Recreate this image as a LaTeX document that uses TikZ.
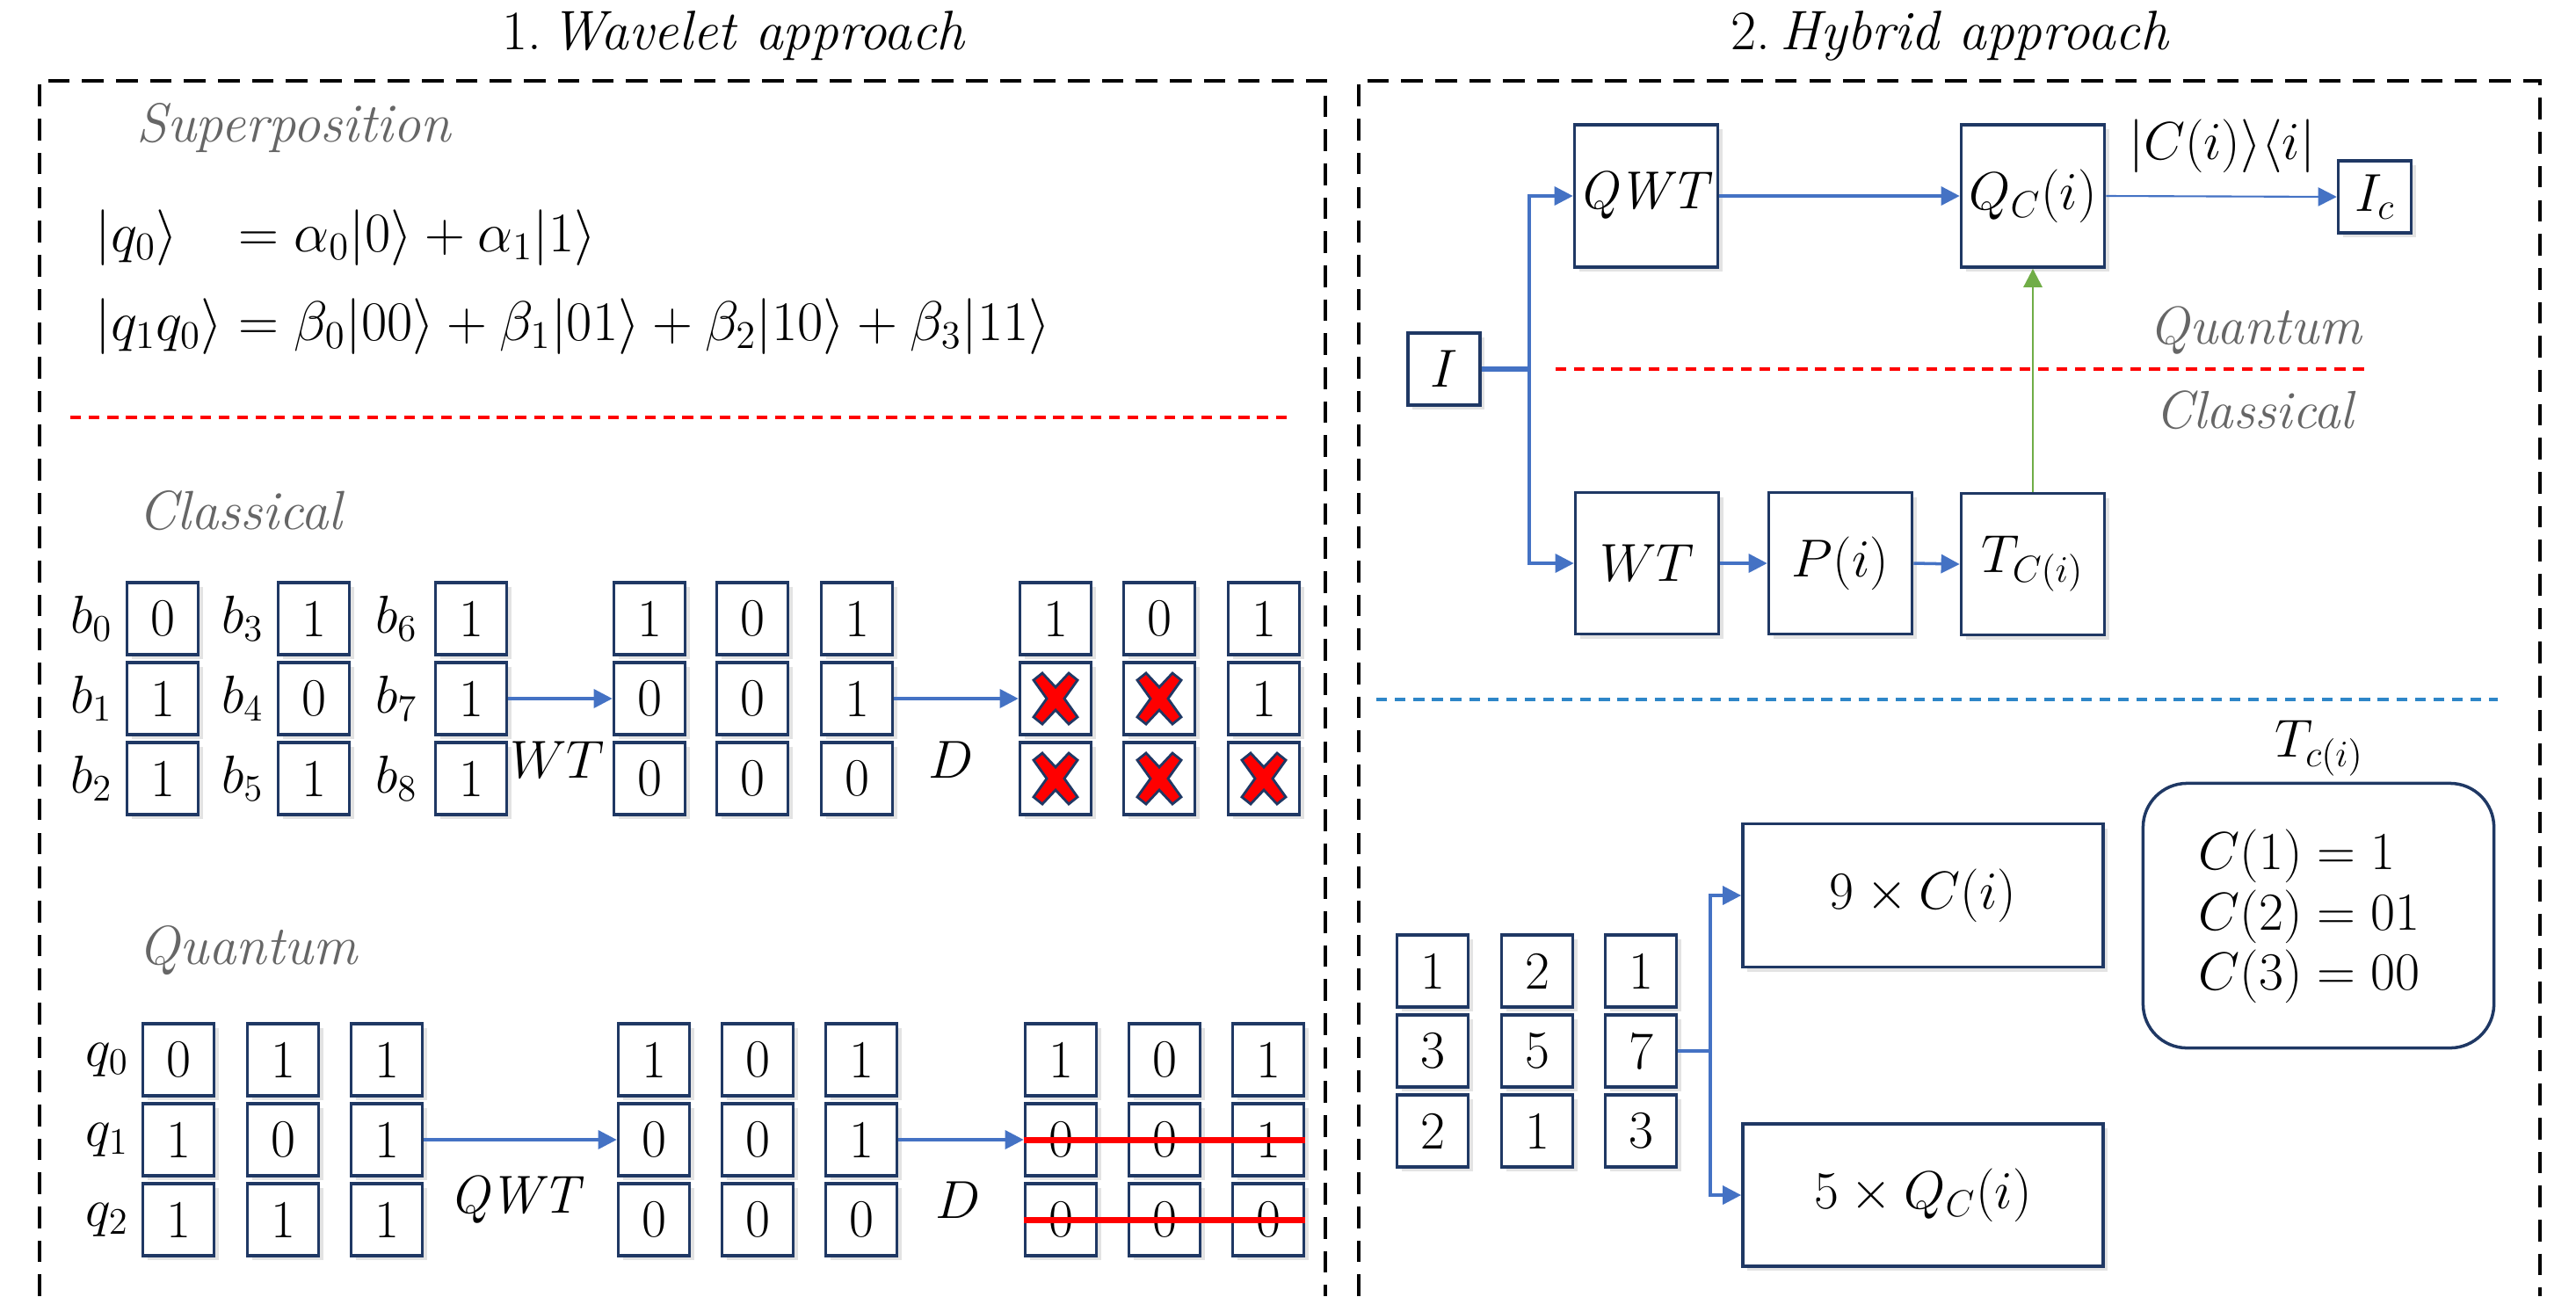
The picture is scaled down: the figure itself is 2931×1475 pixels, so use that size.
\RequirePackage{fix-cm}
\documentclass[tikz,border=0pt]{standalone}
\usetikzlibrary{arrows.meta,shadows}
\definecolor{navy}{HTML}{1F3864}
\definecolor{flowblue}{HTML}{4472C4}
\definecolor{flowgreen}{HTML}{70AD47}
\definecolor{lblgray}{HTML}{666666}
\definecolor{sepblue}{HTML}{2E86C8}
\tikzset{
 fs/.style={font=\fontsize{17.3}{20}\selectfont},
 efs/.style={font=\fontsize{18.1}{21}\selectfont},
 gfs/.style={font=\fontsize{17.8}{21}\selectfont},
 tfs/.style={font=\fontsize{18}{22}\selectfont},
 shad/.style={drop shadow={shadow xshift=1.5pt,shadow yshift=-1.5pt,opacity=0.22}},
 cellbox/.style={draw=navy,line width=1pt,fill=white,minimum width=0.81cm,minimum height=0.82cm,inner sep=0pt,fs,shad},
 procbox/.style={draw=navy,line width=1pt,fill=white,inner sep=0pt,fs,shad},
 flow/.style={draw=flowblue,line width=1pt,-{Triangle[length=6pt,width=6pt]}},
 thinflow/.style={draw=flowblue,line width=0.6pt,-{Triangle[length=6pt,width=6pt]}},
 flowline/.style={draw=flowblue,line width=1pt},
 greenflow/.style={draw=flowgreen,line width=0.8pt,-{Triangle[length=6pt,width=6pt]}},
 frame/.style={draw=black,line width=1.2pt,dash pattern=on 7pt off 4pt},
 redsep/.style={draw=red,line width=0.9pt,dash pattern=on 3.5pt off 2.5pt},
 bluesep/.style={draw=sepblue,line width=0.9pt,dash pattern=on 3.5pt off 2.5pt},
 seclabel/.style={text=lblgray,gfs,anchor=west,inner sep=0pt},
 strike/.style={draw=red,line width=2pt},
 redx/.pic={\filldraw[fill=red,draw=navy,line width=0.8pt]
   (-25,-21) -- (-15,-29) -- (0,-13) -- (15,-29) -- (25,-21) -- (10,0) -- (25,21) -- (15,29) -- (0,13) -- (-15,29) -- (-25,21) -- (-10,0) -- cycle;}
}
\begin{document}
\begin{tikzpicture}[x=0.01cm,y=-0.01cm]
\path[use as bounding box] (0,0) rectangle (2931,1475);
% frames and titles
\draw[frame] (45,1475) -- (45,92) -- (1508,92) -- (1508,1475);
\draw[frame] (1546,1475) -- (1546,92) -- (2890,92) -- (2890,1475);
\node[tfs] (t1) at (835,41) {1.\,\textit{Wavelet approach}};
\node[tfs] (t2) at (2219,41) {2.\,\textit{Hybrid approach}};
% ---------- left panel ----------
\node[seclabel] (sup) at (155,146) {\textit{Superposition}};
\node[efs,anchor=west,inner sep=0pt] (eqs) at (108,322) {\begin{tabular}{@{}l@{}l@{}}
 $|q_0\rangle$ & ${}=\alpha_0|0\rangle+\alpha_1|1\rangle$\\[7.7pt]
 $|q_1q_0\rangle$ & ${}=\beta_0|00\rangle+\beta_1|01\rangle+\beta_2|10\rangle+\beta_3|11\rangle$
 \end{tabular}};
\draw[redsep] (80,475) -- (1467,475);
\node[seclabel] (cls) at (157,581) {\textit{Classical}};
% classical input
\foreach \v [count=\r] in {0,1,1} {\node[cellbox] (ca-1-\r) at (185,{613+91*\r}) {\v};}
\foreach \v [count=\r] in {1,0,1} {\node[cellbox] (ca-2-\r) at (357,{613+91*\r}) {\v};}
\foreach \v [count=\r] in {1,1,1} {\node[cellbox] (ca-3-\r) at (536,{613+91*\r}) {\v};}
\foreach \n/\x/\y in {0/104/704,1/104/795,2/104/886,3/276/704,4/276/795,5/276/886,6/451/704,7/451/795,8/451/886}
  {\node[fs] (lb\n) at (\x,\y) {$b_{\n}$};}
% classical WT output
\foreach \x/\v [count=\c] in {739/1,856/0,975/1} {\node[cellbox] (cw-\c-1) at (\x,704) {\v};}
\foreach \x/\v [count=\c] in {739/0,856/0,975/1} {\node[cellbox] (cw-\c-2) at (\x,795) {\v};}
\foreach \x/\v [count=\c] in {739/0,856/0,975/0} {\node[cellbox] (cw-\c-3) at (\x,886) {\v};}
% classical D output
\foreach \x/\v [count=\c] in {1201/1,1319/0,1438/1} {\node[cellbox] (cd-\c-1) at (\x,704) {\v};}
\foreach \x/\v [count=\c] in {1201/{},1319/{},1438/1} {\node[cellbox] (cd-\c-2) at (\x,795) {\v};}
\foreach \x/\v [count=\c] in {1201/{},1319/{},1438/{}} {\node[cellbox] (cd-\c-3) at (\x,886) {\v};}
\foreach \x/\y in {1201/795,1319/795,1201/886,1319/886,1438/886} {\pic at (\x,\y) {redx};}
\draw[flow] (ca-3-2.east) -- (cw-1-2.west);
\draw[flow] (cw-3-2.east) -- (cd-1-2.west);
\node[fs] (lwt) at (634,865) {$WT$};
\node[fs] (ld1) at (1082,865) {$D$};
% quantum
\node[seclabel] (qnt) at (157,1082) {\textit{Quantum}};
\foreach \x/\v [count=\c] in {203/0,322/1,440/1} {\node[cellbox] (qa-\c-1) at (\x,1206) {\v};}
\foreach \x/\v [count=\c] in {203/1,322/0,440/1} {\node[cellbox] (qa-\c-2) at (\x,1297) {\v};}
\foreach \x/\v [count=\c] in {203/1,322/1,440/1} {\node[cellbox] (qa-\c-3) at (\x,1388) {\v};}
\foreach \n/\y in {0/1206,1/1297,2/1388} {\node[fs] (lq\n) at (122,\y) {$q_{\n}$};}
\foreach \x/\v [count=\c] in {744/1,862/0,980/1} {\node[cellbox] (qw-\c-1) at (\x,1206) {\v};}
\foreach \x/\v [count=\c] in {744/0,862/0,980/1} {\node[cellbox] (qw-\c-2) at (\x,1297) {\v};}
\foreach \x/\v [count=\c] in {744/0,862/0,980/0} {\node[cellbox] (qw-\c-3) at (\x,1388) {\v};}
\foreach \x/\v [count=\c] in {1207/1,1325/0,1443/1} {\node[cellbox] (qd-\c-1) at (\x,1206) {\v};}
\foreach \x/\v [count=\c] in {1207/0,1325/0,1443/1} {\node[cellbox] (qd-\c-2) at (\x,1297) {\v};}
\foreach \x/\v [count=\c] in {1207/0,1325/0,1443/0} {\node[cellbox] (qd-\c-3) at (\x,1388) {\v};}
\draw[flow] (qa-3-2.east) -- (qw-1-2.west);
\draw[flow] (qw-3-2.east) -- (qd-1-2.west);
\draw[strike] (qd-1-2.west) -- (qd-3-2.east);
\draw[strike] (qd-1-3.west) -- (qd-3-3.east);
\node[fs] (lqwt) at (589,1366) {$\mathit{QWT}$};
\node[fs] (ld2) at (1090,1366) {$D$};
% ---------- right panel ----------
\node[procbox,minimum width=0.82cm,minimum height=0.82cm] (I) at (1643,420) {$I$};
\node[procbox,minimum width=1.63cm,minimum height=1.62cm] (QWT) at (1873,223) {$\mathit{QWT}$};
\node[procbox,minimum width=1.63cm,minimum height=1.62cm] (QC) at (2313,223) {$Q_C(i)$};
\node[procbox,minimum width=0.83cm,minimum height=0.82cm] (IC) at (2702,224) {$I_c$};
\node[procbox,minimum width=1.63cm,minimum height=1.61cm] (WT) at (1874,641) {$WT$};
\node[procbox,minimum width=1.63cm,minimum height=1.61cm] (P) at (2094,641) {$P(i)$};
\node[procbox,minimum width=1.63cm,minimum height=1.61cm] (TC) at (2313,642) {$T_{C(i)}$};
\coordinate (br) at (1740,420);
\draw[flowline,line width=1.6pt] (I.east) -- (br);
\draw[flow] (br) |- (QWT.west);
\draw[flow] (br) |- (WT.west);
\draw[flow] (QWT.east) -- (QC.west);
\draw[thinflow] (QC.east) -- (IC.west);
\draw[flow] (WT.east) -- (P.west);
\draw[flow] (P.east) -- (TC.west);
\draw[greenflow] (TC.north) -- (QC.south);
\node[fs] (bra) at (2528,166) {$|C(i)\rangle\langle i|$};
\draw[redsep] (1770,420) -- (2693,420);
\node[fs,text=lblgray] (rq) at (2567,376) {\textit{Quantum}};
\node[fs,text=lblgray] (rc) at (2567,467) {\textit{Classical}};
\draw[bluesep] (1566,796) -- (2842,796);
% grid
\foreach \x/\v [count=\c] in {1630/1,1749/2,1867/1} {\node[cellbox] (g-\c-1) at (\x,1105) {\v};}
\foreach \x/\v [count=\c] in {1630/3,1749/5,1867/7} {\node[cellbox] (g-\c-2) at (\x,1196) {\v};}
\foreach \x/\v [count=\c] in {1630/2,1749/1,1867/3} {\node[cellbox] (g-\c-3) at (\x,1287) {\v};}
\node[procbox,minimum width=4.1cm,minimum height=1.63cm] (N9) at (2188,1019) {$9\times C(i)$};
\node[procbox,minimum width=4.1cm,minimum height=1.62cm] (N5) at (2188,1360) {$5\times Q_C(i)$};
\coordinate (br2) at (1946,1196);
\draw[flowline] (g-3-2.east) -- (br2);
\draw[flow] (br2) |- (N9.west);
\draw[flow] (br2) |- (N5.west);
\node[fs] (tlab) at (2639,852) {$T_{c(i)}$};
\node[draw=navy,line width=1pt,rounded corners=0.5cm,minimum width=3.99cm,minimum height=3.01cm] (tbl) at (2638,1042) {};
\node[fs,anchor=west,align=left,inner sep=0pt] (tblt) at (2501,1043) {$C(1)=1$\\[-0.5pt]$C(2)=01$\\[-0.5pt]$C(3)=00$};
\end{tikzpicture}
\end{document}
